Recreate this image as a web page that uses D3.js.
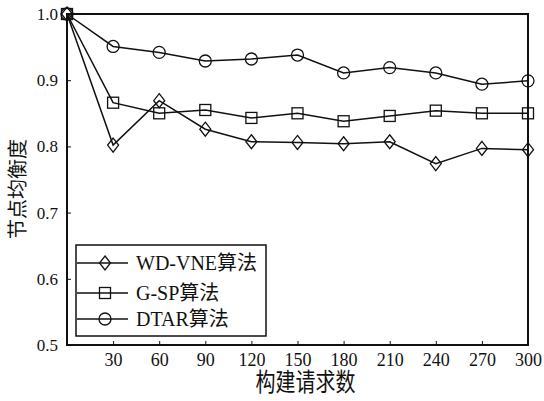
<!DOCTYPE html>
<html>
<head>
<meta charset="utf-8">
<script src="https://cdn.jsdelivr.net/npm/d3@7"></script>
<style>
  body { margin: 0; background: #fff; }
  text { font-family: "Liberation Serif", "Noto Sans CJK SC", serif; fill: #111; }
</style>
</head>
<body>
<div id="chart"></div>
<script>
// data
const xVals = [0, 30, 60, 90, 120, 150, 180, 210, 240, 270, 300]
const xTicks = [30, 60, 90, 120, 150, 180, 210, 240, 270, 300]
const yTicks = [0.5, 0.6, 0.7, 0.8, 0.9, 1.0]
const wdVne = [1.0, 0.802, 0.869, 0.826, 0.807, 0.806, 0.804, 0.807, 0.774, 0.797, 0.795]
const gSp = [1.0, 0.866, 0.850, 0.855, 0.843, 0.850, 0.838, 0.846, 0.854, 0.850, 0.850]
const dtar = [1.0, 0.951, 0.942, 0.929, 0.932, 0.938, 0.911, 0.919, 0.911, 0.894, 0.899]
const seriesNames = ['WD-VNE算法', 'G-SP算法', 'DTAR算法']
const seriesShapes = ['diamond', 'square', 'circle']

const W = 544, H = 401
const margin = { left: 67, right: 16, top: 14, bottom: 56 }
const width = W - margin.left - margin.right
const height = H - margin.top - margin.bottom

const svg = d3.select('#chart').append('svg')
    .attr('width', W)
    .attr('height', H)
    .append('g')
    .attr('transform', `translate(${margin.left}, ${margin.top})`)

const xScale = d3.scaleLinear().domain([0, 300]).range([0, width])
const yScale = d3.scaleLinear().domain([0.5, 1.0]).range([height, 0])

//frame
svg.append('rect')
    .attr('width', width)
    .attr('height', height)
    .attr('fill', 'none')
    .attr('stroke', '#111')
    .attr('stroke-width', 2)

//x axis, ticks point inward
const xaxis = d3.axisBottom(xScale).tickValues(xTicks).tickSizeInner(-4).tickSizeOuter(0).tickPadding(8)
const gx = svg.append('g')
    .attr('transform', 'translate(0,' + height + ')')
    .call(xaxis)
gx.select('.domain').remove()
gx.selectAll('line').attr('stroke', '#111')
gx.selectAll('text').style('font-size', '18px').style('font-family', '"Liberation Serif", serif')

//y axis
const yaxis = d3.axisLeft(yScale).tickValues(yTicks).tickFormat(d3.format('.1f')).tickSizeInner(-4).tickSizeOuter(0).tickPadding(9)
const gy = svg.append('g').call(yaxis)
gy.select('.domain').remove()
gy.selectAll('line').attr('stroke', '#111')
gy.selectAll('text').style('font-size', '17px').style('font-family', '"Liberation Serif", serif')

//axis labels
svg.append('text')
    .attr('transform', `translate(${width / 2 + 8}, ${height + 37}) scale(1, 1.25)`)
    .attr('dy', '0.35em')
    .attr('text-anchor', 'middle')
    .style('font-size', '20px')
    .text('构建请求数')

svg.append('text')
    .attr('transform', `translate(${18 - margin.left}, ${189 - margin.top}) rotate(-90)`)
    .attr('dy', '0.35em')
    .attr('text-anchor', 'middle')
    .style('font-size', '20px')
    .text('节点均衡度')

function drawMarker(g, shape, cx, cy) {
    if (shape === 'circle') {
        g.append('circle').attr('cx', cx).attr('cy', cy).attr('r', 6)
            .attr('fill', 'none').attr('stroke', '#111').attr('stroke-width', 1.3)
    } else if (shape === 'square') {
        g.append('rect').attr('x', cx - 5.5).attr('y', cy - 5.5).attr('width', 11).attr('height', 11)
            .attr('fill', 'none').attr('stroke', '#111').attr('stroke-width', 1.3)
    } else {
        g.append('path').attr('d', `M${cx},${cy - 7}L${cx + 5.5},${cy}L${cx},${cy + 7}L${cx - 5.5},${cy}Z`)
            .attr('fill', 'none').attr('stroke', '#111').attr('stroke-width', 1.3)
    }
}

const line = d3.line()
    .x((d, i) => xScale(xVals[i]))
    .y(d => yScale(d))

const allSeries = [wdVne, gSp, dtar]
allSeries.forEach((vals, k) => {
    svg.append('path')
        .datum(vals)
        .attr('fill', 'none')
        .attr('stroke', '#111')
        .attr('stroke-width', 1.5)
        .attr('d', line)
    const mg = svg.append('g')
    vals.forEach((v, i) => drawMarker(mg, seriesShapes[k], xScale(xVals[i]), yScale(v)))
})

//legend
const legend = svg.append('g').attr('transform', 'translate(9, 231)')
legend.append('rect')
    .attr('width', 190)
    .attr('height', 91)
    .attr('fill', '#fff')
    .attr('stroke', '#111')
    .attr('stroke-width', 1.5)
const rowY = [18, 48, 74]
seriesNames.forEach((name, k) => {
    legend.append('line')
        .attr('x1', 1).attr('x2', 52)
        .attr('y1', rowY[k]).attr('y2', rowY[k])
        .attr('stroke', '#111').attr('stroke-width', 1.5)
    drawMarker(legend, seriesShapes[k], 29, rowY[k])
    legend.append('text')
        .attr('x', 60)
        .attr('y', rowY[k] + 7)
        .style('font-size', '20px')
        .text(name)
})
</script>
</body>
</html>
